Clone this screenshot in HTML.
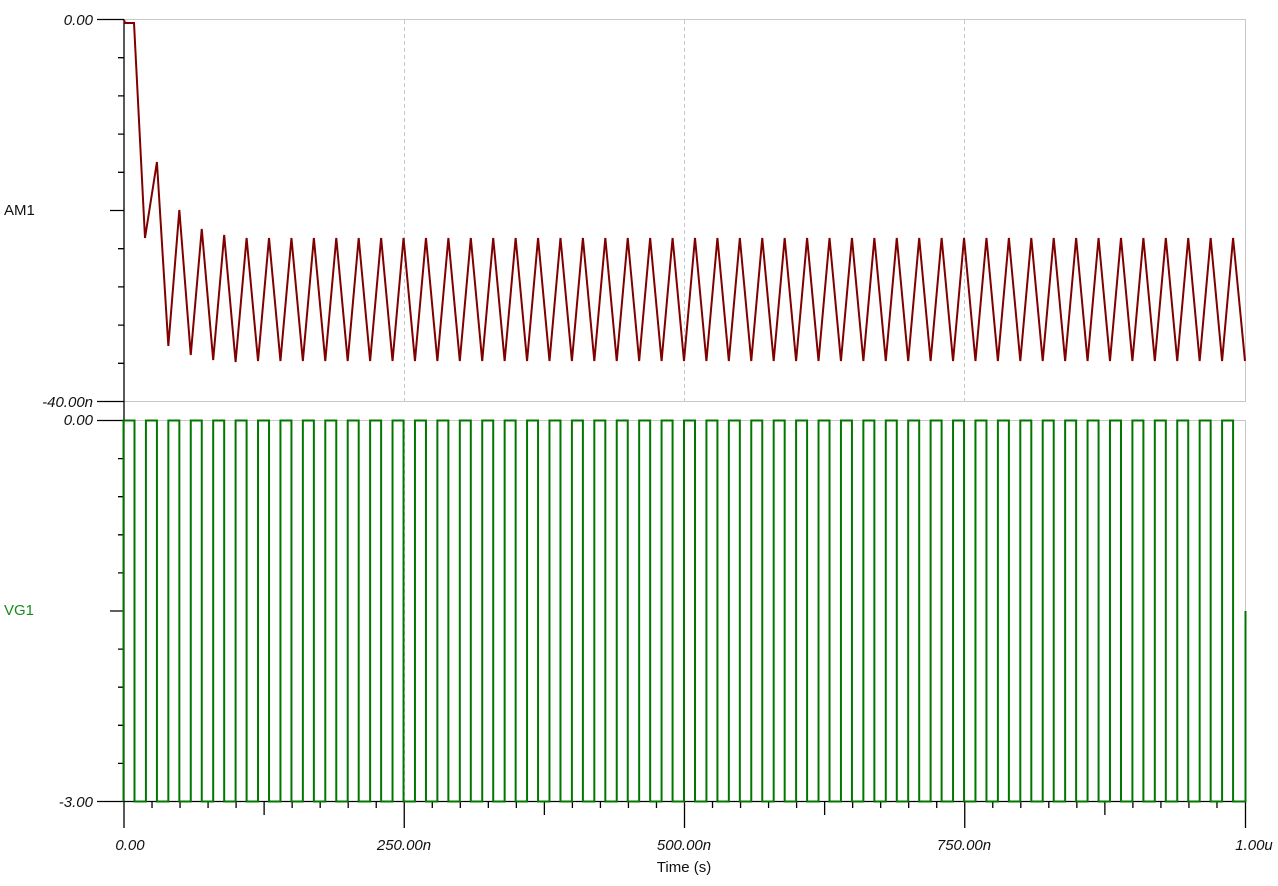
<!DOCTYPE html>
<html><head><meta charset="utf-8"><style>
html,body{margin:0;padding:0;background:#fff;}
svg{display:block;font-family:"Liberation Sans",Arial,sans-serif;}
</style></head><body>
<svg id="s" width="1278" height="886" viewBox="0 0 1278 886" xmlns="http://www.w3.org/2000/svg">
<g fill="none" stroke="#c8c8c8" stroke-width="1">
<path d="M124 19.5H1245.5V401.5H124"/>
<path d="M124 420.5H1245.5V801.5"/>
</g>
<g stroke="#c8c8c8" stroke-width="1" stroke-dasharray="4,3">
<path d="M404.5 20V401M684.5 20V401M964.5 20V401"/>
<path d="M404.5 421V801M684.5 421V801M964.5 421V801"/>
</g>
<path id="ax" stroke="#000" stroke-width="1.3" fill="none"/>
<path id="tri" fill="none" stroke="#800000" stroke-width="2"/>
<path id="sq" fill="none" stroke="#007800" stroke-width="2"/>
<g font-style="italic" font-size="15" fill="#111" text-anchor="end">
<text x="93" y="25">0.00</text>
<text x="93" y="407">-40.00n</text>
<text x="93" y="425">0.00</text>
<text x="93" y="807">-3.00</text>
</g>
<text x="4" y="215" font-size="15" fill="#111">AM1</text>
<text x="4" y="615" font-size="15" fill="#1a8a1a">VG1</text>
<g font-style="italic" font-size="15" fill="#111" text-anchor="middle">
<text x="130" y="850">0.00</text>
<text x="404" y="850">250.00n</text>
<text x="684" y="850">500.00n</text>
<text x="964" y="850">750.00n</text>
<text x="1254" y="850">1.00u</text>
</g>
<text x="684" y="872" font-size="15" fill="#111" text-anchor="middle">Time (s)</text>
</svg>
<script>
var ax='';
ax+='M124 19.5V828';
function yt(y0,y1){var d=(y1-y0)/10;for(var i=0;i<=10;i++){var y=y0+d*i;var x=(i==0||i==10)?97:(i==5?110:118);ax+='M'+x+' '+y+'H124';}}
yt(19.5,401.5);yt(420.5,801.5);
ax+='M124 801.5H1245.5';
for(var k=1;k<40;k++){var x=124+28.025*k;var l=(k%10==0)?828:(k%5==0)?815:808;ax+='M'+x+' 801.5V'+l;}
ax+='M1245.5 801.5V828';
document.getElementById('ax').setAttribute('d',ax);
var P=22.42,x0=123.5;
var sq='M123.5 801.5';
for(var k=0;k<50;k++){var r=x0+P*k,f=r+11;sq+='L'+r+' 801.5L'+r+' 420.5L'+f+' 420.5L'+f+' 801.5';}
sq+='L1245.5 801.5L1245.5 611';
document.getElementById('sq').setAttribute('d',sq);
var tr='M124 20L125 23L134 23L145 238';
var pk=[162,210,229,235,238],tg=[317,346,355,360,362];
for(var k=1;k<50;k++){var r=x0+P*k;var p=k-1<pk.length?pk[k-1]:238;var t=k-1<tg.length?tg[k-1]:361;
 if(k>1)tr+='L'+r+' '+t;tr+='L'+(r+11)+' '+p;}
tr+='L1245 361';
document.getElementById('tri').setAttribute('d',tr);
</script>
</body></html>
